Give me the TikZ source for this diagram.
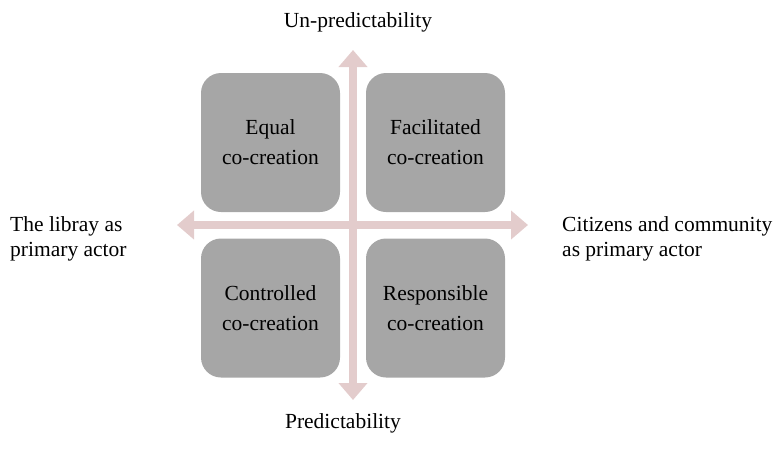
\documentclass[tikz,border=0pt]{standalone}
\usepackage{fontspec}
\setmainfont{Liberation Serif}
\usetikzlibrary{arrows.meta}
\definecolor{boxgray}{HTML}{A6A6A6}
\definecolor{axispink}{HTML}{E3CCCC}
\begin{document}
\begin{tikzpicture}[x=1pt,y=-1pt,
  quad/.style={draw=none,fill=boxgray,rounded corners=20pt,minimum width=139pt,minimum height=139pt,
    align=center,font=\fontsize{21.5}{30}\selectfont,text=black},
  axis/.style={draw=axispink,line width=8pt,{Triangle[width=28pt,length=17pt]}-{Triangle[width=28pt,length=17pt]}},
  lbl/.style={align=left,font=\fontsize{21.5}{25}\selectfont,text=black,inner sep=0pt}]
\useasboundingbox (0,0) rectangle (784,450);
\node[quad] (tl) at (270.5,142.5) {Equal\\co-creation};
\node[quad] (tr) at (435.5,142.5) {Facilitated\\co-creation};
\node[quad] (bl) at (270.5,308) {Controlled\\co-creation};
\node[quad] (br) at (435.5,308) {Responsible\\co-creation};
\coordinate (vtop) at (353,50);
\coordinate (vbot) at (353,400);
\coordinate (hl) at (177,225);
\coordinate (hr) at (528,225);
\draw[axis] (vbot) -- (vtop);
\draw[axis] (hl) -- (hr);
\node[lbl,anchor=center] (up) at (358,22) {Un-predictability};
\node[lbl,anchor=center] (down) at (343,423) {Predictability};
\node[lbl,anchor=west] (left) at (10,239) {The libray as\\primary actor};
\node[lbl,anchor=west] (right) at (562,239) {Citizens and community\\as primary actor};
\end{tikzpicture}
\end{document}
